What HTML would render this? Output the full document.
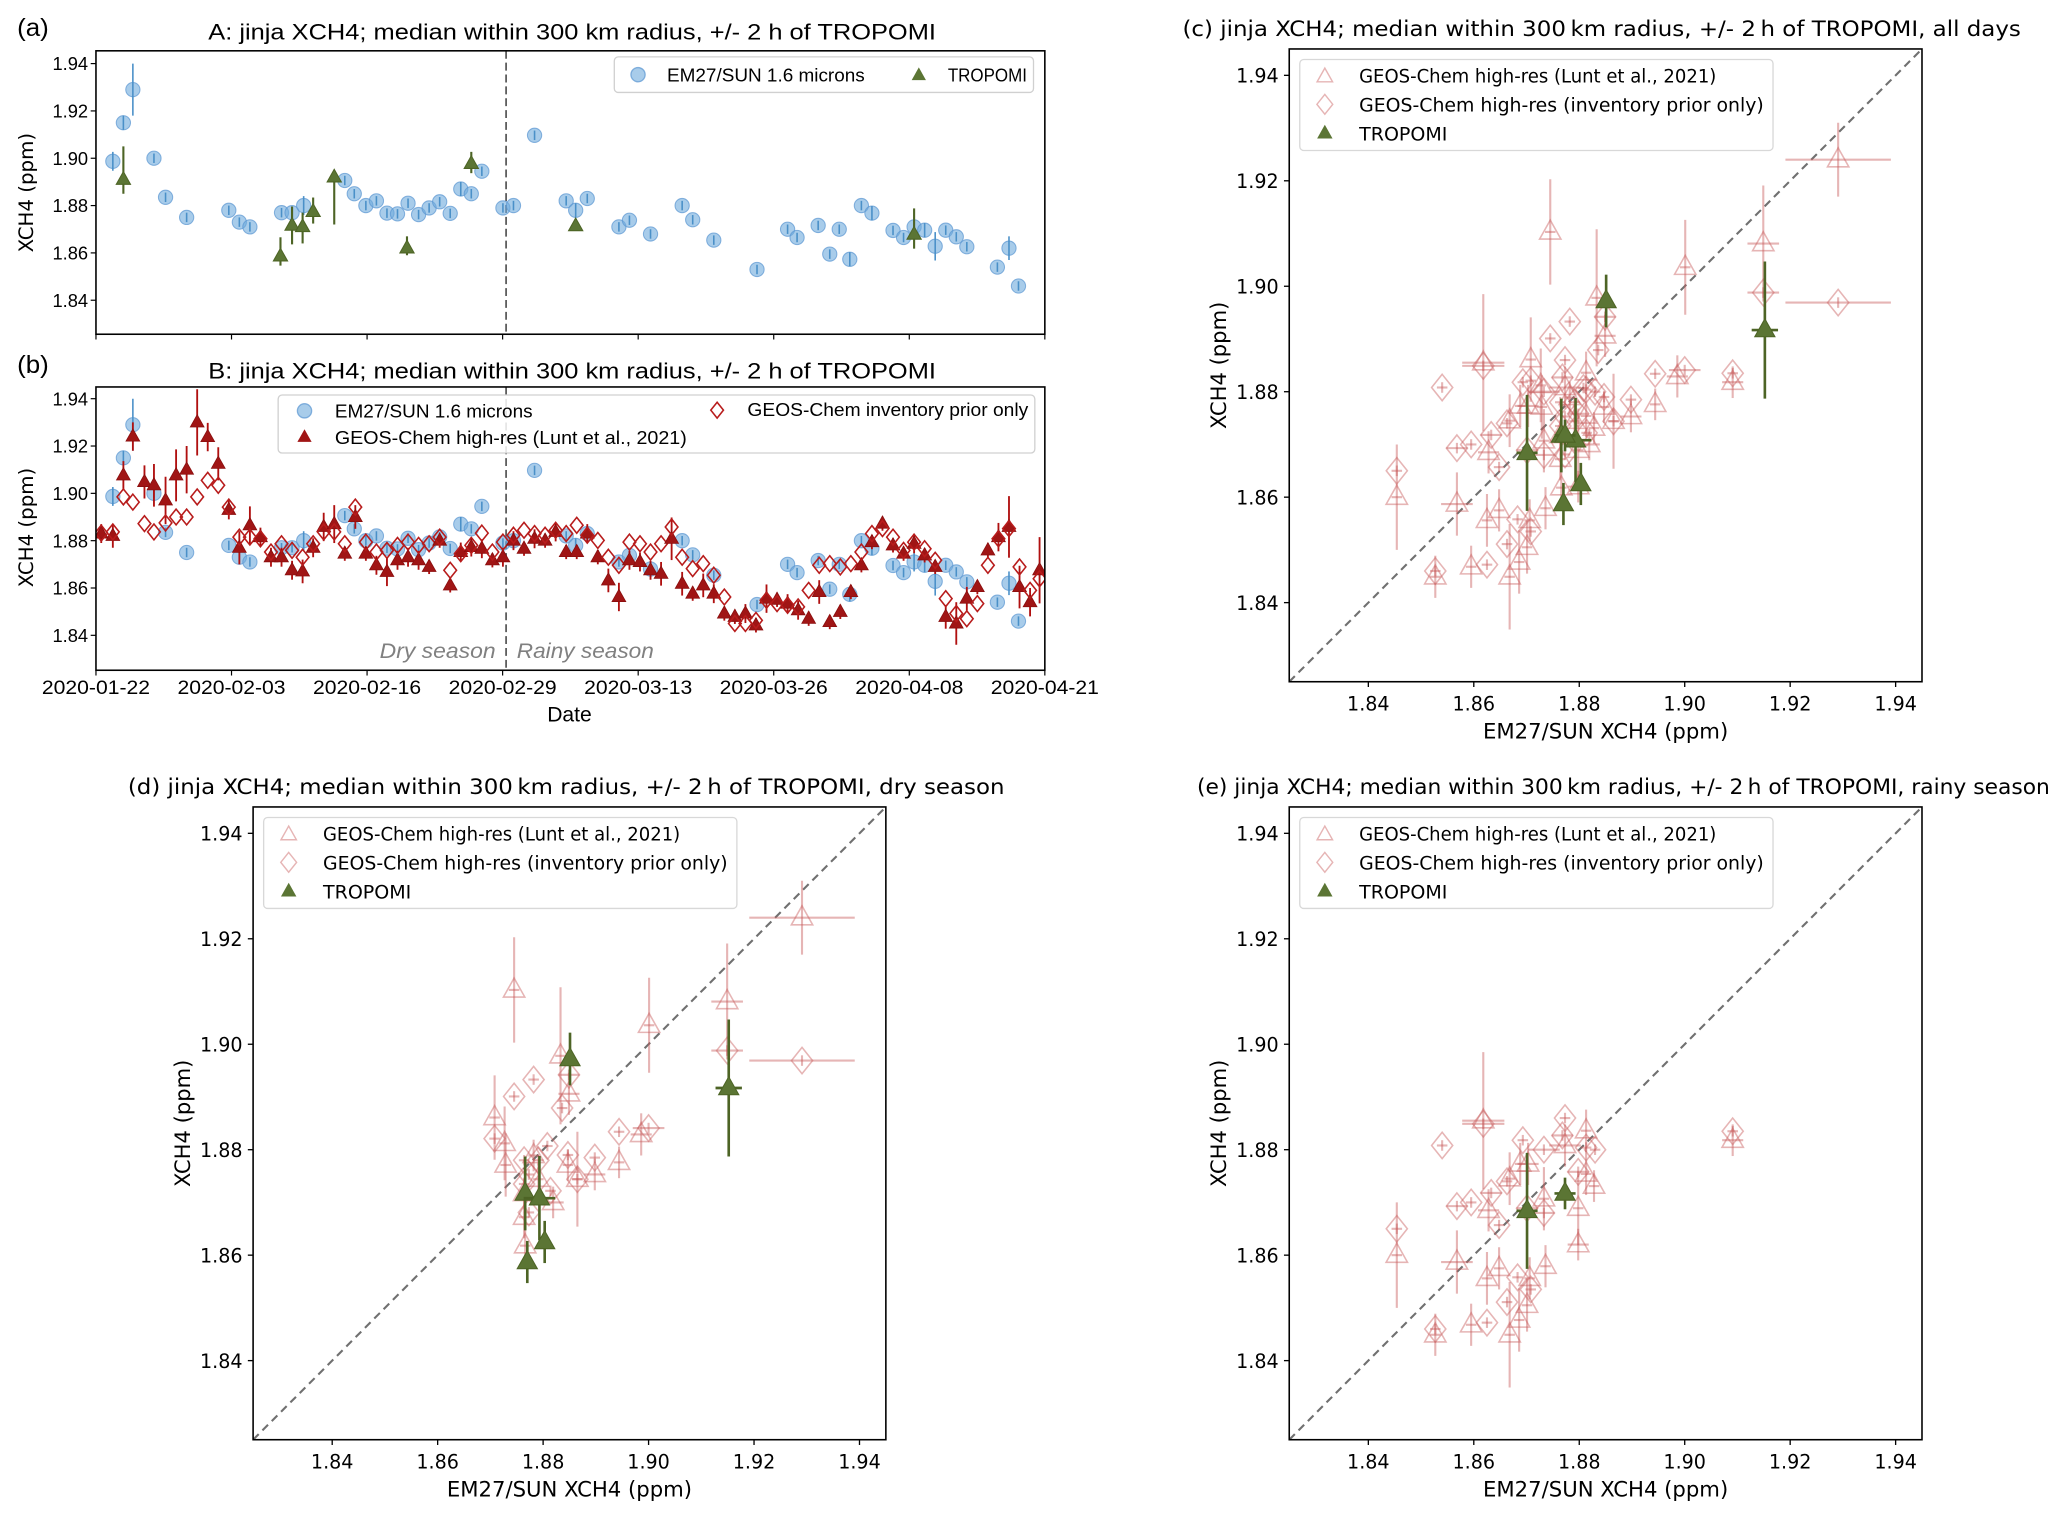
<!DOCTYPE html>
<html><head><meta charset="utf-8"><title>jinja XCH4</title>
<style>
html,body{margin:0;padding:0;background:#fff;}
svg{display:block;}
.t1{font-family:"Liberation Sans",sans-serif;}
.t2{font-family:"DejaVu Sans","Liberation Sans",sans-serif;}
</style></head>
<body>
<svg id="fig" xmlns="http://www.w3.org/2000/svg" width="2067" height="1519" viewBox="0 0 1568 1152"></svg>
<script>
// ---------- Panel (a)/(b) data: days since 2020-01-22 ----------
const dateTicks = ["2020-01-22","2020-02-03","2020-02-16","2020-02-29","2020-03-13","2020-03-26","2020-04-08","2020-04-21"];
const yTicksTS = [1.84,1.86,1.88,1.90,1.92,1.94];
const emDays = [1.6,2.6,3.5,5.5,6.6,8.6,12.6,13.6,14.6,17.6,18.6,19.7,23.6,24.5,25.6,26.6,27.6,28.6,29.6,30.6,31.6,32.6,33.6,34.6,35.6,36.6,38.6,39.6,41.6,44.6,45.5,46.6,49.6,50.6,52.6,55.6,56.6,58.6,62.7,65.6,66.5,68.5,69.6,70.5,71.5,72.6,73.6,75.6,76.6,77.6,78.6,79.6,80.6,81.6,82.6,85.5,86.6,87.5];
const emVals = [1.8987,1.915,1.929,1.900,1.8835,1.875,1.878,1.873,1.871,1.877,1.877,1.880,1.8906,1.885,1.880,1.882,1.8768,1.8765,1.881,1.8762,1.879,1.8816,1.8767,1.887,1.885,1.8945,1.879,1.880,1.9097,1.882,1.878,1.883,1.871,1.8738,1.868,1.880,1.874,1.8654,1.853,1.870,1.8665,1.8716,1.8595,1.870,1.8573,1.880,1.8768,1.8695,1.8665,1.871,1.8696,1.8628,1.8696,1.8668,1.8626,1.854,1.862,1.846];
const emErr = [0.004,0.003,0.011,0.002,0.002,0.002,0.002,0.002,0.002,0.002,0.002,0.004,0.002,0.002,0.002,0.002,0.002,0.002,0.002,0.002,0.002,0.002,0.002,0.003,0.002,0.002,0.002,0.002,0.002,0.002,0.003,0.002,0.002,0.002,0.002,0.002,0.002,0.002,0.002,0.002,0.002,0.002,0.002,0.002,0.003,0.002,0.003,0.002,0.002,0.004,0.003,0.006,0.002,0.002,0.002,0.002,0.005,0.002];
const troDays = [2.6,17.5,18.6,19.6,20.6,22.6,29.5,35.6,45.5,77.6];
const troVals = [1.891,1.8586,1.8716,1.871,1.8774,1.892,1.862,1.8977,1.8714,1.8678];
const troLo = [0.006,0.004,0.008,0.007,0.005,0.020,0.003,0.004,0.002,0.006];
const troHi = [0.014,0.008,0.008,0.006,0.006,0.002,0.005,0.005,0.003,0.011];
const gcDays = [0.5,1.6,2.6,3.5,4.6,5.5,6.6,7.6,8.6,9.6,10.6,11.6,12.6,13.6,14.6,15.6,16.6,17.6,18.6,19.6,20.6,21.6,22.6,23.6,24.6,25.6,26.6,27.6,28.6,29.6,30.6,31.6,32.6,33.6,34.6,35.6,36.6,37.6,38.6,39.6,40.6,41.6,42.6,43.6,44.6,45.6,46.6,47.6,48.6,49.6,50.6,51.6,52.6,53.6,54.6,55.6,56.6,57.6,58.6,59.6,60.6,61.6,62.6,63.6,64.6,65.6,66.6,67.6,68.6,69.6,70.6,71.6,72.6,73.6,74.6,75.6,76.6,77.6,78.6,79.6,80.6,81.6,82.6,83.6,84.6,85.6,86.6,87.6,88.6,89.5];
const gcVals = [1.883,1.882,1.9076,1.924,1.9048,1.9034,1.897,1.9076,1.910,1.930,1.9238,1.9125,1.893,1.877,1.8865,1.8815,1.873,1.873,1.8675,1.867,1.877,1.8858,1.887,1.8745,1.890,1.8745,1.8696,1.8668,1.8717,1.873,1.8717,1.8689,1.880,1.8611,1.8752,1.8773,1.8766,1.8717,1.873,1.880,1.8766,1.8808,1.880,1.8837,1.8752,1.8752,1.883,1.873,1.8632,1.8562,1.8717,1.871,1.8675,1.866,1.8808,1.8618,1.8576,1.8611,1.8576,1.8492,1.8478,1.8492,1.8442,1.8555,1.855,1.8534,1.8506,1.847,1.8583,1.8456,1.8499,1.8583,1.8696,1.8794,1.8872,1.878,1.8745,1.8787,1.8738,1.8689,1.8478,1.845,1.8555,1.8604,1.8759,1.8815,1.8858,1.8604,1.854,1.8675];
const gcErr = [0.004,0.005,0.006,0.006,0.007,0.009,0.010,0.011,0.010,0.014,0.006,0.007,0.004,0.007,0.008,0.004,0.004,0.004,0.004,0.005,0.004,0.006,0.008,0.003,0.005,0.003,0.004,0.006,0.004,0.004,0.004,0.003,0.003,0.003,0.004,0.004,0.004,0.003,0.004,0.004,0.003,0.004,0.003,0.004,0.003,0.003,0.004,0.003,0.005,0.006,0.004,0.004,0.004,0.005,0.009,0.005,0.003,0.005,0.004,0.003,0.003,0.004,0.003,0.006,0.003,0.004,0.004,0.003,0.005,0.003,0.003,0.003,0.003,0.003,0.003,0.003,0.003,0.004,0.003,0.003,0.005,0.009,0.005,0.003,0.003,0.006,0.013,0.009,0.006,0.014];
const invVals = [1.8832,1.8837,1.8985,1.8963,1.8872,1.8837,1.8875,1.890,1.890,1.8985,1.9055,1.9034,1.8942,1.8815,1.8815,1.8808,1.8752,1.8787,1.8759,1.873,1.8787,1.8837,1.8837,1.8787,1.8942,1.8794,1.8752,1.8759,1.878,1.8794,1.878,1.8787,1.8815,1.8675,1.8745,1.878,1.8832,1.8752,1.8794,1.8823,1.8844,1.883,1.8823,1.8844,1.883,1.8865,1.8823,1.8801,1.873,1.8696,1.8794,1.8787,1.8752,1.8787,1.8858,1.873,1.8682,1.8703,1.8654,1.8562,1.845,1.845,1.8463,1.8548,1.8534,1.8527,1.852,1.859,1.8696,1.8703,1.8689,1.8703,1.8752,1.883,1.8851,1.8815,1.8759,1.8794,1.8766,1.8717,1.8555,1.8492,1.847,1.8534,1.8696,1.8808,1.8851,1.8689,1.859,1.8639];

// ---------- Scatter data (EM27 x, model y) ----------
const sTicks = [1.84,1.86,1.88,1.90,1.92,1.94];
const dryLuntX = [1.8745,1.9291,1.9149,1.9001,1.8833,1.8849,1.8708,1.8727,1.8729,1.8944,1.8986,1.8898,1.8865,1.8847,1.8766,1.8764,1.8782,1.8819,1.8791,1.8764];
const dryLuntY = [1.9103,1.924,1.9081,1.9036,1.8978,1.8906,1.8861,1.8812,1.8771,1.8776,1.8829,1.8753,1.8744,1.8771,1.8618,1.8672,1.8789,1.870,1.8744,1.8717];
const dryLuntYerr = [0.010,0.007,0.011,0.009,0.013,0.004,0.008,0.007,0.006,0.003,0.004,0.003,0.009,0.003,0.003,0.004,0.003,0.003,0.003,0.003];
const dryLuntXerr = [0.001,0.010,0.003,0.001,0.001,0.002,0.001,0.001,0.001,0.001,0.002,0.002,0.001,0.001,0.001,0.001,0.001,0.002,0.001,0.001];
const dryInvX = [1.8745,1.8782,1.8836,1.8849,1.8708,1.9149,1.9291,1.8944,1.9,1.8898,1.8865,1.8847,1.8808,1.8764,1.8773,1.8791,1.8764,1.8773,1.8814];
const dryInvY = [1.8901,1.8933,1.8879,1.8942,1.8821,1.8988,1.8969,1.8834,1.8841,1.8785,1.8744,1.879,1.8807,1.878,1.8753,1.878,1.8735,1.8681,1.8722];
const dryInvXerr = [0.001,0.001,0.001,0.002,0.001,0.003,0.010,0.001,0.003,0.001,0.001,0.001,0.001,0.001,0.001,0.001,0.001,0.001,0.001];
const dryTroX = [1.877,1.8766,1.8793,1.8803,1.8851,1.9152];
const dryTroY = [1.8587,1.8717,1.8708,1.8625,1.8972,1.8917];
const dryTroYerr = [0.004,0.007,0.008,0.004,0.005,0.013];
const dryTroXerr = [0.0005,0.0005,0.003,0.0005,0.0005,0.0025];
const rainLuntX = [1.8454,1.8568,1.8527,1.8595,1.8625,1.8648,1.8618,1.8668,1.8686,1.8701,1.8706,1.8736,1.8668,1.8688,1.8703,1.8628,1.8733,1.8773,1.8798,1.8798,1.8813,1.8828,1.9091,1.8813];
const rainLuntY = [1.860,1.8587,1.8449,1.8468,1.8556,1.8575,1.8855,1.8449,1.8477,1.8505,1.8556,1.8579,1.8745,1.8773,1.8773,1.8685,1.8707,1.8808,1.8689,1.862,1.8754,1.8731,1.8818,1.8836];
const rainLuntYerr = [0.010,0.006,0.004,0.004,0.005,0.004,0.013,0.010,0.006,0.005,0.004,0.004,0.005,0.004,0.004,0.004,0.006,0.004,0.007,0.003,0.004,0.003,0.003,0.004];
const rainLuntXerr = [0.001,0.003,0.001,0.001,0.001,0.001,0.004,0.001,0.001,0.001,0.001,0.001,0.001,0.001,0.002,0.002,0.001,0.003,0.001,0.002,0.001,0.001,0.002,0.001];
const rainInvX = [1.8454,1.854,1.8618,1.8568,1.8595,1.8625,1.8648,1.8633,1.8663,1.8693,1.8733,1.8733,1.8773,1.8768,1.8813,1.883,1.8798,1.8708,1.8683,1.8663,1.8527,1.9091,1.8701];
const rainInvY = [1.865,1.8808,1.8849,1.8693,1.870,1.8472,1.8657,1.8718,1.874,1.8818,1.868,1.880,1.886,1.8827,1.8804,1.880,1.8758,1.8535,1.8558,1.8511,1.846,1.8835,1.8689];
const rainInvXerr = [0.001,0.001,0.004,0.002,0.001,0.001,0.001,0.002,0.001,0.001,0.002,0.003,0.001,0.002,0.001,0.001,0.002,0.001,0.001,0.001,0.001,0.001,0.002];
const rainTroX = [1.8701,1.8773];
const rainTroY = [1.8684,1.8717];
const rainTroYerr = [0.011,0.003];
const rainTroXerr = [0.002,0.002];

// ---------- drawing helpers ----------
const NS = "http://www.w3.org/2000/svg";
const svg = document.getElementById("fig");
function mk(tag, attrs, parent, name) {
  const el = document.createElementNS(NS, tag);
  for (const k in attrs) el.setAttribute(k, attrs[k]);
  
  
  (parent || svg).appendChild(el);
  return el;
}
function txt(s, x, y, size, cls, name, extra) {
  const a = Object.assign({x: x, y: y, "font-size": size, class: cls, fill: "#000"}, extra || {});
  const el = mk("text", a, svg, name);
  el.textContent = s;
  return el;
}
function triPts(cx, cy, s) {
  return (cx) + "," + (cy - s) + " " + (cx - s * 0.9) + "," + (cy + s * 0.6) + " " + (cx + s * 0.9) + "," + (cy + s * 0.6);
}
function diaPts(cx, cy, s) {
  return cx + "," + (cy - s) + " " + (cx + s * 0.8) + "," + cy + " " + cx + "," + (cy + s) + " " + (cx - s * 0.8) + "," + cy;
}

// ---------- time-series panels ----------
function tsPanel(cfg) {
  const X0 = 72.8, X1 = 792.6;
  const xs = d => X0 + d * (X1 - X0) / 90;
  const ys = v => cfg.y184 - (v - 1.84) * 1795;
  const g = mk("g", {}, svg, cfg.id + "-plot-area");
  const clipId = cfg.id + "-clip";
  const cp = mk("clipPath", {id: clipId}, g, cfg.id + "-clip-path");
  mk("rect", {x: X0, y: cfg.top, width: X1 - X0, height: cfg.bot - cfg.top}, cp, cfg.id + "-clip-rect");
  yTicksTS.forEach(v => {
    const y = ys(v);
    mk("line", {x1: X0 - 4, x2: X0, y1: y, y2: y, stroke: "#000", "stroke-width": 0.9}, g, "y-tick");
    txt(v.toFixed(2), X0 - 6, y + 5, 14, "t1", "y-tick-label", {"text-anchor": "end", textLength: 27, lengthAdjust: "spacingAndGlyphs"});
  });
  dateTicks.forEach((lab, i) => {
    const x = X0 + i * (X1 - X0) / 7;
    mk("line", {x1: x, x2: x, y1: cfg.bot, y2: cfg.bot + 4, stroke: "#000", "stroke-width": 0.9}, g, "x-tick");
    if (cfg.labels) txt(lab, x, cfg.bot + 18, 15, "t1", "x-tick-label", {"text-anchor": "middle", textLength: 82, lengthAdjust: "spacingAndGlyphs"});
  });
  mk("line", {x1: xs(38.9), x2: xs(38.9), y1: cfg.top, y2: cfg.bot, stroke: "#555", "stroke-width": 1.3, "stroke-dasharray": "6,3"}, g, "season-divider");
  const pg = mk("g", {"clip-path": "url(#" + clipId + ")"}, g, cfg.id + "-series");
  cfg.draw(pg, xs, ys);
  mk("rect", {x: X0, y: cfg.top, width: X1 - X0, height: cfg.bot - cfg.top, fill: "none", stroke: "#000", "stroke-width": 1.2}, g, cfg.id + "-axes-frame");
}
function drawEM(pg, xs, ys) {
  emDays.forEach((d, i) => {
    const x = xs(d), y = ys(emVals[i]);
    mk("circle", {cx: x, cy: y, r: 5.4, fill: "rgba(110,170,220,0.6)", stroke: "rgba(90,150,210,0.7)", "stroke-width": 0.8}, pg, "em27-point");
    mk("line", {x1: x, x2: x, y1: ys(emVals[i] - emErr[i]), y2: ys(emVals[i] + emErr[i]), stroke: "#4a90c8", "stroke-width": 1.2}, pg, "em27-error-bar");
  });
}

tsPanel({id: "panel-a", top: 38.4, bot: 253.4, y184: 227.6, labels: false, draw: function (pg, xs, ys) {
  drawEM(pg, xs, ys);
  troDays.forEach((d, i) => {
    const x = xs(d), y = ys(troVals[i]);
    mk("line", {x1: x, x2: x, y1: ys(troVals[i] - troLo[i]), y2: ys(troVals[i] + troHi[i]), stroke: "#4d6425", "stroke-width": 1.6}, pg, "tropomi-error-bar");
    mk("polygon", {points: triPts(x, y, 6), fill: "#5b7534", stroke: "#4d6425", "stroke-width": 0.8}, pg, "tropomi-point");
  });
}});
tsPanel({id: "panel-b", top: 293.4, bot: 508.3, y184: 481.8, labels: true, draw: function (pg, xs, ys) {
  drawEM(pg, xs, ys);
  gcDays.forEach((d, i) => {
    const x = xs(d);
    mk("line", {x1: x, x2: x, y1: ys(gcVals[i] - gcErr[i]), y2: ys(gcVals[i] + gcErr[i]), stroke: "#b01010", "stroke-width": 1.4}, pg, "geos-chem-error-bar");
    mk("polygon", {points: triPts(x, ys(gcVals[i]), 5.8), fill: "#a01515", stroke: "#8a0e0e", "stroke-width": 0.6}, pg, "geos-chem-point");
    mk("polygon", {points: diaPts(x, ys(invVals[i]), 6), fill: "none", stroke: "#b81c1c", "stroke-width": 1.2}, pg, "inventory-point");
  });
}});

// Panel texts
txt("(a)", 13, 27, 19, "t1", "panel-a-label", {textLength: 24, lengthAdjust: "spacingAndGlyphs"});
txt("A: jinja XCH4; median within 300 km radius, +/- 2 h of TROPOMI", 434, 30, 17, "t1", "panel-a-title", {"text-anchor": "middle", textLength: 552, lengthAdjust: "spacingAndGlyphs"});
txt("XCH4 (ppm)", 0, 0, 15, "t2", "panel-a-y-axis-title", {"text-anchor": "middle", transform: "translate(25,146) rotate(-90)"});
txt("(b)", 13, 283, 19, "t1", "panel-b-label", {textLength: 24, lengthAdjust: "spacingAndGlyphs"});
txt("B: jinja XCH4; median within 300 km radius, +/- 2 h of TROPOMI", 434, 287, 17, "t1", "panel-b-title", {"text-anchor": "middle", textLength: 552, lengthAdjust: "spacingAndGlyphs"});
txt("XCH4 (ppm)", 0, 0, 15, "t2", "panel-b-y-axis-title", {"text-anchor": "middle", transform: "translate(25,400) rotate(-90)"});
txt("Date", 432, 547, 16, "t1", "panel-b-x-axis-title", {"text-anchor": "middle"});
txt("Dry season", 376, 499, 16, "t1", "dry-season-label", {"text-anchor": "end", "font-style": "italic", fill: "#808080", textLength: 88, lengthAdjust: "spacingAndGlyphs"});
txt("Rainy season", 392, 499, 16, "t1", "rainy-season-label", {"font-style": "italic", fill: "#808080", textLength: 104, lengthAdjust: "spacingAndGlyphs"});

// legend a
mk("rect", {x: 466, y: 43, width: 318, height: 27, rx: 3, fill: "rgba(255,255,255,0.85)", stroke: "#d0d0d0"}, svg, "panel-a-legend");
mk("circle", {cx: 484, cy: 56.5, r: 5.4, fill: "rgba(110,170,220,0.6)", stroke: "rgba(90,150,210,0.7)"}, svg, "legend-em27-marker");
txt("EM27/SUN 1.6 microns", 506, 61.5, 14, "t1", "legend-em27-label", {textLength: 150, lengthAdjust: "spacingAndGlyphs"});
mk("polygon", {points: triPts(697, 57, 6), fill: "#5b7534"}, svg, "legend-tropomi-marker");
txt("TROPOMI", 719, 61.5, 14, "t1", "legend-tropomi-label", {textLength: 60, lengthAdjust: "spacingAndGlyphs"});
// legend b
mk("rect", {x: 211, y: 299.5, width: 574, height: 44, rx: 3, fill: "rgba(255,255,255,0.85)", stroke: "#d0d0d0"}, svg, "panel-b-legend");
mk("circle", {cx: 231, cy: 311.5, r: 5.4, fill: "rgba(110,170,220,0.6)", stroke: "rgba(90,150,210,0.7)"}, svg, "legend-em27-marker");
txt("EM27/SUN 1.6 microns", 254, 316.5, 14, "t1", "legend-em27-label", {textLength: 150, lengthAdjust: "spacingAndGlyphs"});
mk("polygon", {points: triPts(231, 331.5, 6), fill: "#a01515"}, svg, "legend-geos-chem-marker");
txt("GEOS-Chem high-res (Lunt et al., 2021)", 254, 336.5, 14, "t1", "legend-geos-chem-label", {textLength: 267, lengthAdjust: "spacingAndGlyphs"});
mk("polygon", {points: diaPts(544, 311, 6), fill: "none", stroke: "#b81c1c", "stroke-width": 1.2}, svg, "legend-inventory-marker");
txt("GEOS-Chem inventory prior only", 567, 315.5, 14, "t1", "legend-inventory-label", {textLength: 213, lengthAdjust: "spacingAndGlyphs"});

// ---------- scatter panels ----------
const LC = "rgba(200,90,90,0.45)";
function scatterPanel(cfg) {
  const x0 = cfg.x0, y1 = cfg.y1, S = 480;
  const xs = v => x0 + (v - 1.825) * 4000;
  const ys = v => y1 - (v - 1.825) * 4000;
  const g = mk("g", {}, svg, cfg.id + "-plot-area");
  sTicks.forEach(v => {
    mk("line", {x1: x0 - 4, x2: x0, y1: ys(v), y2: ys(v), stroke: "#000"}, g, "y-tick");
    txt(v.toFixed(2), x0 - 8, ys(v) + 5.5, 14.5, "t2", "y-tick-label", {"text-anchor": "end"});
    mk("line", {x1: xs(v), x2: xs(v), y1: y1, y2: y1 + 4, stroke: "#000"}, g, "x-tick");
    txt(v.toFixed(2), xs(v), y1 + 22, 14.5, "t2", "x-tick-label", {"text-anchor": "middle"});
  });
  mk("line", {x1: xs(1.825), y1: ys(1.825), x2: xs(1.945), y2: ys(1.945), stroke: "#707070", "stroke-width": 1.6, "stroke-dasharray": "6,4"}, g, "one-to-one-line");
  cfg.series.forEach(s => {
    s.x.forEach((xv, i) => {
      const cx = xs(xv), cy = ys(s.y[i]);
      const xe = s.xerr[i], ye = s.yerr ? s.yerr[i] : 0.001;
      const col = s.kind === "tro" ? "#4d6425" : LC;
      const w = s.kind === "tro" ? 2 : 1.6;
      mk("line", {x1: cx, x2: cx, y1: ys(s.y[i] - ye), y2: ys(s.y[i] + ye), stroke: col, "stroke-width": w}, g, s.kind + "-y-error-bar");
      mk("line", {x1: xs(xv - xe), x2: xs(xv + xe), y1: cy, y2: cy, stroke: col, "stroke-width": w}, g, s.kind + "-x-error-bar");
      if (s.kind === "lunt") mk("polygon", {points: triPts(cx, cy, 9), fill: "none", stroke: LC, "stroke-width": 1.2}, g, "lunt-point");
      else if (s.kind === "inv") mk("polygon", {points: diaPts(cx, cy, 10), fill: "none", stroke: LC, "stroke-width": 1.2}, g, "inventory-point");
      else mk("polygon", {points: triPts(cx, cy, 8.5), fill: "#5b7534", stroke: "#4d6425", "stroke-width": 0.8}, g, "tropomi-point");
    });
  });
  mk("rect", {x: x0, y: y1 - S, width: S, height: S, fill: "none", stroke: "#000", "stroke-width": 1.2}, g, cfg.id + "-axes-frame");
  const lx = x0 + 8, ly = y1 - S + 8;
  mk("rect", {x: lx, y: ly, width: 359, height: 69, rx: 3, fill: "rgba(255,255,255,0.85)", stroke: "#d8d8d8"}, g, cfg.id + "-legend");
  mk("polygon", {points: triPts(lx + 19, ly + 13, 6.5), fill: "none", stroke: LC, "stroke-width": 1.1}, g, "legend-lunt-marker");
  txt("GEOS-Chem high-res (Lunt et al., 2021)", lx + 45, ly + 17.5, 14, "t2", "legend-lunt-label", {textLength: 271, lengthAdjust: "spacingAndGlyphs"});
  mk("polygon", {points: diaPts(lx + 19, ly + 34, 7.5), fill: "none", stroke: LC, "stroke-width": 1.1}, g, "legend-inventory-marker");
  txt("GEOS-Chem high-res (inventory prior only)", lx + 45, ly + 39.5, 14, "t2", "legend-inventory-label", {textLength: 307, lengthAdjust: "spacingAndGlyphs"});
  mk("polygon", {points: triPts(lx + 19, ly + 56, 6.5), fill: "#5b7534"}, g, "legend-tropomi-marker");
  txt("TROPOMI", lx + 45, ly + 61.5, 14, "t2", "legend-tropomi-label", {textLength: 67, lengthAdjust: "spacingAndGlyphs"});
  txt("XCH4 (ppm)", 0, 0, 16, "t2", cfg.id + "-y-axis-title", {"text-anchor": "middle", transform: "translate(" + (x0 - 48) + "," + (y1 - 240) + ") rotate(-90)"});
  txt("EM27/SUN XCH4 (ppm)", x0 + 240, y1 + 43, 16, "t2", cfg.id + "-x-axis-title", {"text-anchor": "middle", textLength: 186, lengthAdjust: "spacingAndGlyphs"});
  txt(cfg.title, cfg.tx, y1 - S - 10, 16.5, "t2", cfg.id + "-title", {textLength: cfg.tw, lengthAdjust: "spacingAndGlyphs"});
}
const dryS = [
  {kind: "lunt", x: dryLuntX, y: dryLuntY, yerr: dryLuntYerr, xerr: dryLuntXerr},
  {kind: "inv", x: dryInvX, y: dryInvY, xerr: dryInvXerr},
  {kind: "tro", x: dryTroX, y: dryTroY, yerr: dryTroYerr, xerr: dryTroXerr}];
const rainS = [
  {kind: "lunt", x: rainLuntX, y: rainLuntY, yerr: rainLuntYerr, xerr: rainLuntXerr},
  {kind: "inv", x: rainInvX, y: rainInvY, xerr: rainInvXerr},
  {kind: "tro", x: rainTroX, y: rainTroY, yerr: rainTroYerr, xerr: rainTroXerr}];
const allS = [
  {kind: "lunt", x: dryLuntX.concat(rainLuntX), y: dryLuntY.concat(rainLuntY), yerr: dryLuntYerr.concat(rainLuntYerr), xerr: dryLuntXerr.concat(rainLuntXerr)},
  {kind: "inv", x: dryInvX.concat(rainInvX), y: dryInvY.concat(rainInvY), xerr: dryInvXerr.concat(rainInvXerr)},
  {kind: "tro", x: dryTroX.concat(rainTroX), y: dryTroY.concat(rainTroY), yerr: dryTroYerr.concat(rainTroYerr), xerr: dryTroXerr.concat(rainTroXerr)}];
scatterPanel({id: "panel-c", x0: 978, y1: 517, series: allS, tx: 897, tw: 636, title: "(c)  jinja XCH4; median within 300\u2009km radius, +/- 2\u2009h of TROPOMI, all days"});
scatterPanel({id: "panel-d", x0: 192, y1: 1092, series: dryS, tx: 97, tw: 665, title: "(d)  jinja XCH4; median within 300\u2009km radius, +/- 2\u2009h of TROPOMI, dry season"});
scatterPanel({id: "panel-e", x0: 978, y1: 1092, series: rainS, tx: 908, tw: 647, title: "(e)  jinja XCH4; median within 300\u2009km radius, +/- 2\u2009h of TROPOMI, rainy season"});
</script>
</body></html>
